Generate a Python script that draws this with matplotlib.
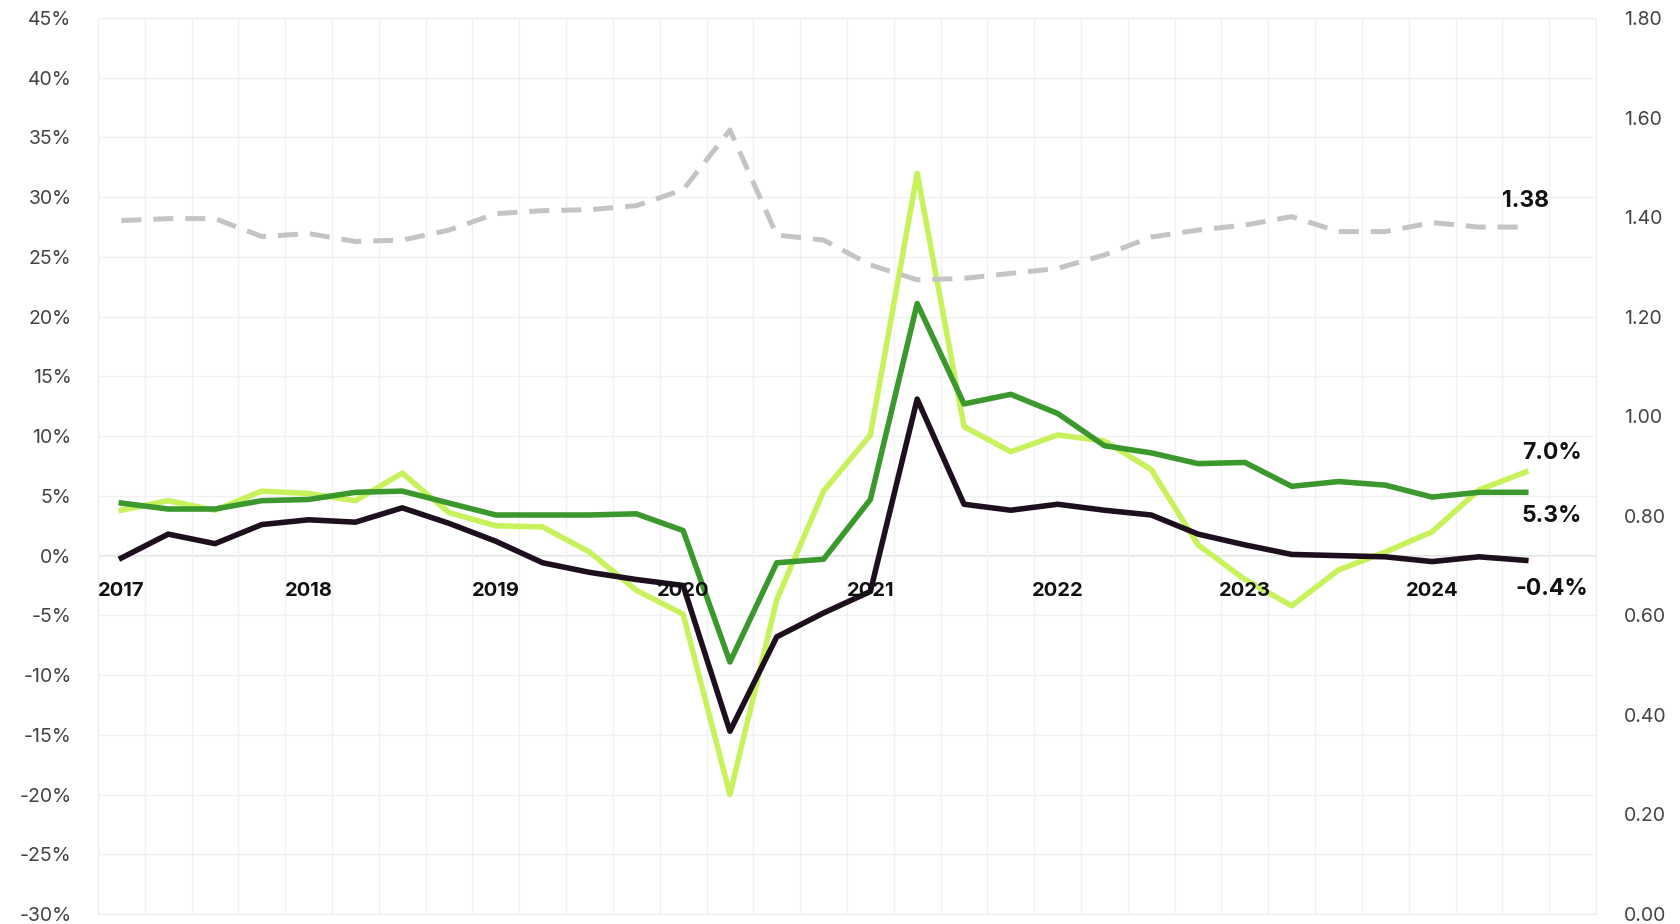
import matplotlib
matplotlib.use("Agg")
import matplotlib.pyplot as plt
from matplotlib.ticker import FuncFormatter, MultipleLocator

plt.rcParams['font.family'] = ['Inter', 'DejaVu Sans']

# quarterly series, 2017 Q1 .. 2024 Q3 (last band 2024 Q4 is empty)
quarters = [f"{y} Q{q}" for y in range(2017, 2025) for q in range(1, 5)]
years = ["2017", "2018", "2019", "2020", "2021", "2022", "2023", "2024"]

series_black = [-0.2, 1.8, 1.0, 2.6, 3.0, 2.8, 4.0, 2.7, 1.2, -0.6, -1.4, -2.0, -2.5,
                -14.7, -6.8, -4.8, -3.0, 13.1, 4.3, 3.8, 4.3, 3.8, 3.4, 1.8, 0.9, 0.1,
                0.0, -0.1, -0.5, -0.1, -0.4]
series_dark = [4.4, 3.9, 3.9, 4.6, 4.7, 5.3, 5.4, 4.4, 3.4, 3.4, 3.4, 3.5, 2.1,
               -8.9, -0.6, -0.3, 4.7, 21.1, 12.7, 13.5, 11.9, 9.2, 8.6, 7.7, 7.8, 5.8,
               6.2, 5.9, 4.9, 5.3, 5.3]
series_light = [3.8, 4.6, 3.8, 5.4, 5.2, 4.6, 6.9, 3.6, 2.5, 2.4, 0.3, -2.9, -4.9,
                -20.0, -3.7, 5.4, 10.1, 32.0, 10.8, 8.7, 10.1, 9.6, 7.2, 0.9, -2.0, -4.2,
                -1.2, 0.3, 2.0, 5.5, 7.0]
ratio = [1.393, 1.397, 1.397, 1.361, 1.367, 1.351, 1.354, 1.374, 1.407, 1.413, 1.415,
         1.423, 1.455, 1.575, 1.364, 1.354, 1.304, 1.274, 1.277, 1.287, 1.297, 1.324,
         1.360, 1.374, 1.384, 1.401, 1.371, 1.371, 1.389, 1.380, 1.380]

end_labels = ["7.0%", "5.3%", "-0.4%"]
ratio_label = "1.38"

fig = plt.figure(figsize=(16.8, 9.24), dpi=100)
ax = fig.add_axes([0.0583, 0.0108, 0.8917, 0.9697])
ax2 = ax.twinx()

x = list(range(len(series_black)))

ax.set_xlim(-0.5, len(quarters) - 0.5)
ax.set_ylim(-30, 45)
ax2.set_ylim(0, 1.8)

# grid
ax.yaxis.set_major_locator(MultipleLocator(5))
ax.set_xticks([i - 0.5 for i in range(len(quarters) + 1)])
ax.set_xticklabels([])
ax.tick_params(axis='x', length=0)
ax.grid(True, color='#f1f1f1', lw=1)
ax.axhline(0, color='#dcdcdc', lw=1.3, zorder=1)
for s in ax.spines.values():
    s.set_color('#eeeeee')
for s in ax2.spines.values():
    s.set_visible(False)

ax.yaxis.set_major_formatter(FuncFormatter(lambda v, p: f"{v:.0f}%"))
ax.tick_params(axis='y', length=0, pad=19, labelsize=14, labelcolor='#444444')
ax2.yaxis.set_major_locator(MultipleLocator(0.2))
ax2.yaxis.set_major_formatter(FuncFormatter(lambda v, p: f"{v:.2f}"))
ax2.tick_params(axis='y', length=0, pad=20, labelsize=14, labelcolor='#444444')

ax.plot(x, series_light, color='#c8f25c', lw=4, zorder=3)
ax.plot(x, series_dark, color='#3a982c', lw=4, zorder=4)
ax.plot(x, series_black, color='#1e0f1e', lw=4, zorder=5)
ax2.plot(x, ratio, color='#c4c4c4', lw=3.6, dashes=(4, 2.4), zorder=2)

# year labels inside the plot
for k, yr in enumerate(years):
    ax.text(k * 4, -3.0, yr, ha='center', va='center', fontsize=14.5,
            fontweight='bold', color='#111111', zorder=6)

last = len(x) - 1
ax.text(last + 0.55, 8.6, end_labels[0], ha='center', va='center', fontsize=16.5,
        fontweight='bold', color='#111111')
ax.text(last + 0.55, 3.3, end_labels[1], ha='center', va='center', fontsize=16.5,
        fontweight='bold', color='#111111')
ax.text(last + 0.55, -2.8, end_labels[2], ha='center', va='center', fontsize=16.5,
        fontweight='bold', color='#111111')
ax2.text(last, 1.433, ratio_label, ha='center', va='center', fontsize=16.5,
         fontweight='bold', color='#111111')

fig.savefig("out.png", dpi=100, facecolor='white')
